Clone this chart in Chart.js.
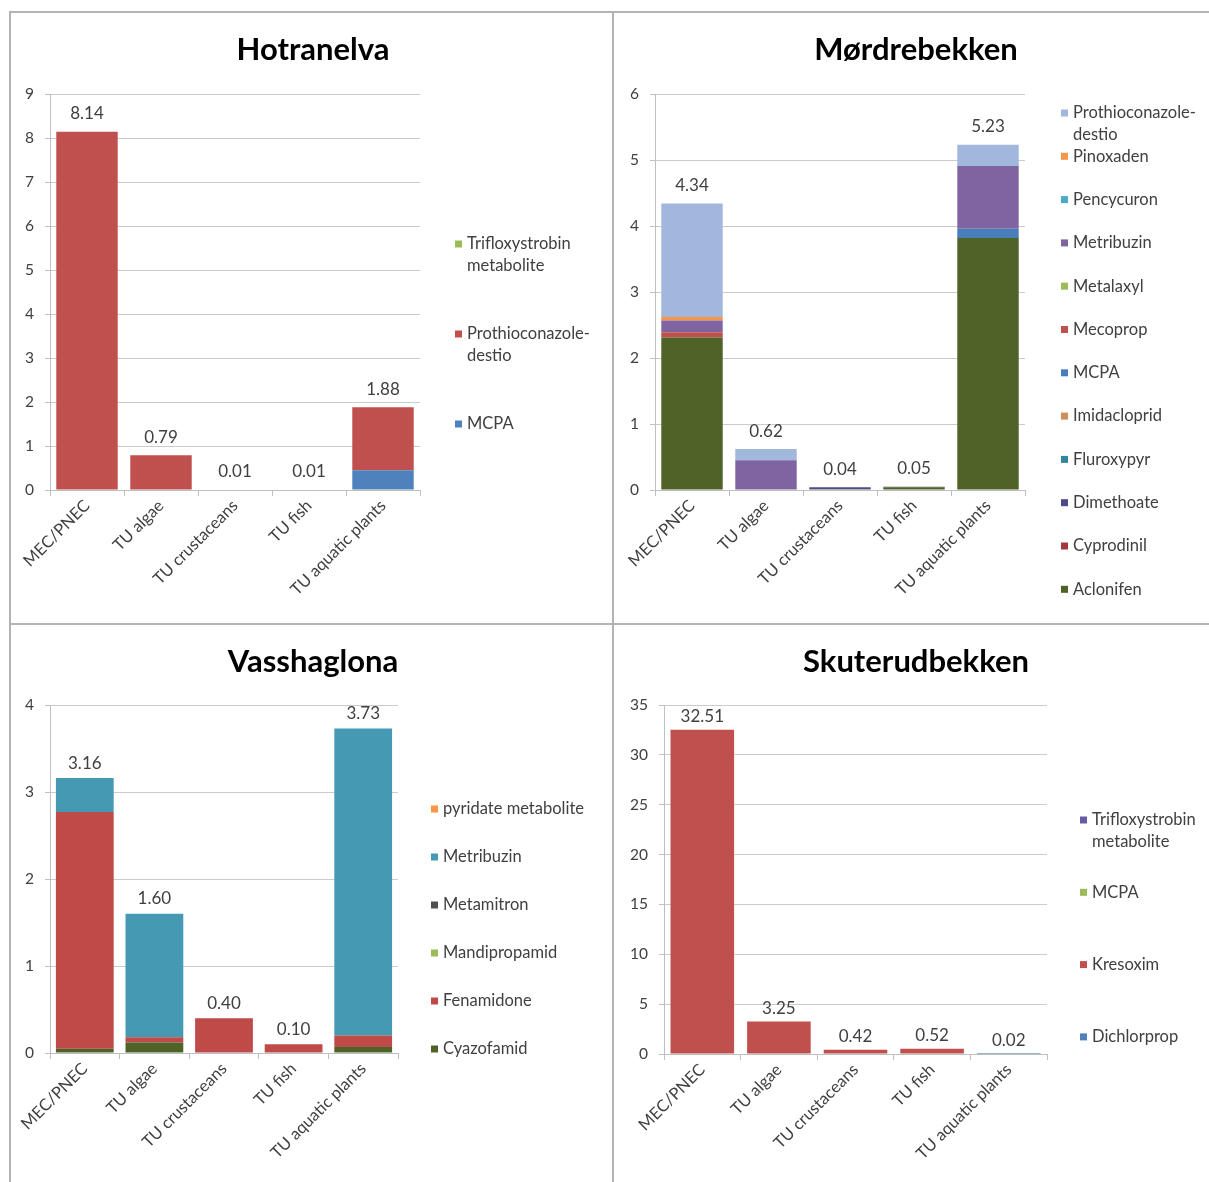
<!DOCTYPE html>
<html>
<head>
<meta charset="utf-8">
<script src="https://cdn.jsdelivr.net/npm/chart.js@4.4.1/dist/chart.umd.min.js"></script>
<style>
  html, body { margin: 0; padding: 0; background: #ffffff; }
  body { position: relative; width: 1209px; height: 1182px; overflow: hidden; font-family: Lato, "Open Sans", sans-serif; }
  .rule { position: absolute; background: #b3b3b3; }
  canvas { position: absolute; }
</style>
</head>
<body>
<div class="rule" style="left:9px;top:11px;width:1200px;height:2px"></div>
<div class="rule" style="left:9px;top:11px;width:2px;height:1171px"></div>
<div class="rule" style="left:612px;top:11px;width:2px;height:1171px"></div>
<div class="rule" style="left:9px;top:623px;width:1200px;height:2px"></div>

<canvas id="hot" width="601" height="610" style="left:11px;top:13px"></canvas>
<canvas id="mor" width="595" height="610" style="left:614px;top:13px"></canvas>
<canvas id="vas" width="601" height="557" style="left:11px;top:625px"></canvas>
<canvas id="sku" width="595" height="557" style="left:614px;top:625px"></canvas>

<script>
// Endpoint categories shared by all four streams
const categories = ['MEC/PNEC', 'TU algae', 'TU crustaceans', 'TU fish', 'TU aquatic plants'];

// Hotranelva (substances listed from bottom of stack to top)
const hotNames = ['MCPA', 'Prothioconazole-destio', 'Trifloxystrobin metabolite'];
const hotMCPA     = [0,    0,    0,    0,    0.45];
const hotProthio  = [8.14, 0.79, 0,    0,    1.43];
const hotTriflox  = [0,    0,    0.01, 0.01, 0];

// Mørdrebekken
const morNames = ['Aclonifen', 'Cyprodinil', 'Dimethoate', 'Fluroxypyr', 'Imidacloprid', 'MCPA',
                  'Mecoprop', 'Metalaxyl', 'Metribuzin', 'Pencycuron', 'Pinoxaden', 'Prothioconazole-destio'];
const morAclonifen    = [2.31, 0,    0.01, 0.04, 3.82];
const morCyprodinil   = [0,    0,    0,    0,    0];
const morDimethoate   = [0,    0,    0.03, 0.01, 0];
const morFluroxypyr   = [0,    0,    0,    0,    0];
const morImidacloprid = [0,    0,    0,    0,    0];
const morMCPA         = [0,    0,    0,    0,    0.14];
const morMecoprop     = [0.08, 0,    0,    0,    0];
const morMetalaxyl    = [0,    0,    0,    0,    0];
const morMetribuzin   = [0.18, 0.45, 0,    0,    0.95];
const morPencycuron   = [0,    0,    0,    0,    0];
const morPinoxaden    = [0.05, 0,    0,    0,    0];
const morProthio      = [1.72, 0.17, 0,    0,    0.32];

// Vasshaglona
const vasNames = ['Cyazofamid', 'Fenamidone', 'Mandipropamid', 'Metamitron', 'Metribuzin', 'pyridate metabolite'];
const vasCyazofamid    = [0.05, 0.12, 0,    0,    0.07];
const vasFenamidone    = [2.72, 0.06, 0.40, 0.10, 0.13];
const vasMandipropamid = [0,    0,    0,    0,    0];
const vasMetamitron    = [0,    0,    0,    0,    0];
const vasMetribuzin    = [0.39, 1.42, 0,    0,    3.53];
const vasPyridate      = [0,    0,    0,    0,    0];

// Skuterudbekken
const skuNames = ['Dichlorprop', 'Kresoxim', 'MCPA', 'Trifloxystrobin metabolite'];
const skuDichlorprop = [0,     0,    0,    0,    0.01];
const skuKresoxim    = [32.51, 3.25, 0.42, 0.52, 0];
const skuMCPA        = [0,     0,    0,    0,    0.01];
const skuTriflox     = [0,     0,    0,    0,    0];

// Axis ranges
const hotAxis = { max: 9,  step: 1 };
const morAxis = { max: 6,  step: 1 };
const vasAxis = { max: 4,  step: 1 };
const skuAxis = { max: 35, step: 5 };

const FONT = 'Lato, "Open Sans", sans-serif';
const TEXT = '#404040';

// Splits a legend entry onto several lines at spaces or after hyphens
function wrapText(ctx, text, maxW) {
  const tokens = text.match(/[^\s-]+-?|-/g) || [text];
  const lines = [];
  let cur = '';
  tokens.forEach(t => {
    const sep = (cur === '' || cur.endsWith('-')) ? '' : ' ';
    const test = cur + sep + t;
    if (cur && ctx.measureText(test).width > maxW) { lines.push(cur); cur = t; }
    else cur = test;
  });
  if (cur) lines.push(cur);
  return lines;
}

// Chart heading drawn centred over the whole panel
const panelTitle = {
  id: 'panelTitle',
  afterDraw(chart, args, o) {
    const ctx = chart.ctx;
    ctx.save();
    ctx.font = `bold ${o.size}px ${FONT}`;
    ctx.fillStyle = '#000000';
    ctx.textAlign = 'center';
    ctx.textBaseline = 'middle';
    ctx.fillText(o.text, o.x, o.y);
    ctx.restore();
  }
};

// Stack totals written above each column
const totalLabels = {
  id: 'totalLabels',
  afterDatasetsDraw(chart, args, o) {
    const ctx = chart.ctx;
    const yScale = chart.scales.y;
    const sets = chart.data.datasets;
    const meta = chart.getDatasetMeta(sets.length - 1);
    ctx.save();
    ctx.font = `${o.size}px ${FONT}`;
    ctx.fillStyle = TEXT;
    ctx.textAlign = 'center';
    ctx.textBaseline = 'middle';
    chart.data.labels.forEach((lab, i) => {
      const total = sets.reduce((s, d) => s + d.data[i], 0);
      const x = meta.data[i].x;
      const y = yScale.getPixelForValue(total) - o.offset;
      ctx.fillText(total.toFixed(2), x, y);
    });
    ctx.restore();
  }
};

// Vertical legend at the right, topmost stack series first
const sideLegend = {
  id: 'sideLegend',
  afterDraw(chart, args, o) {
    const ctx = chart.ctx;
    ctx.save();
    ctx.font = `${o.size}px ${FONT}`;
    ctx.textAlign = 'left';
    ctx.textBaseline = 'middle';
    const items = chart.data.datasets.slice().reverse();
    items.forEach((d, i) => {
      const y0 = o.y + i * o.step;
      ctx.fillStyle = d.backgroundColor;
      ctx.fillRect(o.x, y0 - 3.5, 7, 7);
      ctx.fillStyle = TEXT;
      wrapText(ctx, d.label, o.maxWidth).forEach((ln, j) => {
        ctx.fillText(ln, o.x + 12, y0 + j * o.lineHeight);
      });
    });
    ctx.restore();
  }
};

function buildChart(id, title, names, series, colors, axis, box, legend, labelOffset) {
  const canvas = document.getElementById(id);
  const W = canvas.width, H = canvas.height;
  const datasets = names.map((n, k) => ({
    label: n,
    data: series[k],
    backgroundColor: colors[k],
    borderWidth: 0,
    barPercentage: 0.83,
    categoryPercentage: 1.0
  }));
  return new Chart(canvas, {
    type: 'bar',
    data: { labels: categories, datasets },
    plugins: [panelTitle, totalLabels, sideLegend],
    options: {
      responsive: false,
      animation: false,
      devicePixelRatio: 1,
      layout: { autoPadding: false, padding: { left: 0, top: box.top, right: W - box.right, bottom: 0 } },
      scales: {
        x: {
          stacked: true,
          grid: { display: true, drawOnChartArea: false, offset: true, tickLength: 6, tickColor: '#bfbfbf', lineWidth: 1 },
          border: { display: true, color: '#bfbfbf', width: 1 },
          ticks: { maxRotation: 45, minRotation: 45, color: TEXT, font: { size: 16.5, family: FONT }, padding: 0, autoSkip: false },
          afterFit(s) { s.height = H - box.bottom; }
        },
        y: {
          stacked: true,
          min: 0,
          max: axis.max,
          grid: { color: '#cccccc', lineWidth: 1, tickLength: 5, tickColor: '#bfbfbf' },
          border: { display: true, color: '#bfbfbf', width: 1 },
          ticks: { stepSize: axis.step, color: TEXT, font: { size: 15.5, family: FONT }, padding: 11 },
          afterFit(s) { s.width = box.left; }
        }
      },
      plugins: {
        legend: { display: false },
        tooltip: { enabled: false },
        panelTitle: { text: title, x: 302, y: 37, size: 31 },
        totalLabels: { size: 17, offset: labelOffset },
        sideLegend: Object.assign({ size: 16.5, lineHeight: 22 }, legend)
      }
    }
  });
}

buildChart('hot', 'Hotranelva', hotNames,
  [hotMCPA, hotProthio, hotTriflox],
  ['#4f81bd', '#c0504d', '#9bbb59'],
  hotAxis, { left: 39, right: 409, top: 81, bottom: 477 },
  { x: 444, y: 231, step: 90, maxWidth: 140 }, 18);

buildChart('mor', 'Mørdrebekken', morNames,
  [morAclonifen, morCyprodinil, morDimethoate, morFluroxypyr, morImidacloprid, morMCPA,
   morMecoprop, morMetalaxyl, morMetribuzin, morPencycuron, morPinoxaden, morProthio],
  ['#4f6228', '#a33a3f', '#4d4a8c', '#31859c', '#d08f5a', '#4a7ebb',
   '#c0504d', '#9bbb59', '#8064a2', '#4bacc6', '#f79646', '#a2b7dc'],
  morAxis, { left: 41, right: 411, top: 81, bottom: 477 },
  { x: 447, y: 100, step: 43.3, maxWidth: 134 }, 18);

buildChart('vas', 'Vasshaglona', vasNames,
  [vasCyazofamid, vasFenamidone, vasMandipropamid, vasMetamitron, vasMetribuzin, vasPyridate],
  ['#4f6228', '#bf4b48', '#9bbb59', '#505050', '#4599b3', '#f79646'],
  vasAxis, { left: 39, right: 387, top: 80, bottom: 428 },
  { x: 420, y: 184, step: 48, maxWidth: 180 }, 15);

buildChart('sku', 'Skuterudbekken', skuNames,
  [skuDichlorprop, skuKresoxim, skuMCPA, skuTriflox],
  ['#4f81bd', '#c0504d', '#9bbb59', '#6a5aa6'],
  skuAxis, { left: 50, right: 433, top: 80, bottom: 429 },
  { x: 466, y: 195, step: 72.3, maxWidth: 112 }, 13);
</script>
</body>
</html>
